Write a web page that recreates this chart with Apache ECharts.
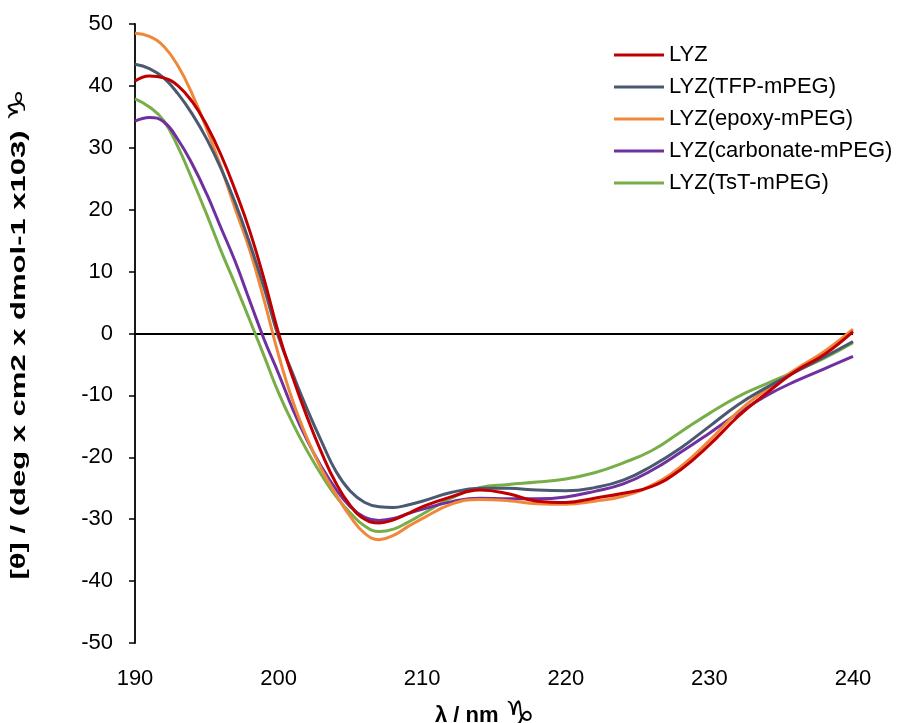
<!DOCTYPE html>
<html>
<head>
<meta charset="utf-8">
<script src="https://cdn.jsdelivr.net/npm/echarts@6/dist/echarts.min.js"></script>
<style>
html,body{margin:0;padding:0;background:#fff;}
#c{width:915px;height:723px;}
</style>
</head>
<body>
<div id="c"></div>
<script>
// Wavelength (nm)
var wavelengths = [190,191,192,193,194,195,196,197,198,199,200,201,202,203,204,205,206,207,208,209,210,
  212,214,216,218,220,222,224,226,228,230,232,234,236,238,240];
var seriesNames = ['LYZ','LYZ(TFP-mPEG)','LYZ(epoxy-mPEG)','LYZ(carbonate-mPEG)','LYZ(TsT-mPEG)'];
var lyz = [40.8,41.6,41.3,40.0,37.4,33.6,28.8,23.0,16.5,8.7,0.0,-7.2,-13.6,-19.3,-24.2,-27.8,-30.0,-30.6,-30.1,-29.1,-28.0,
  -26.4,-25.3,-25.9,-27.1,-27.3,-26.6,-25.8,-24.7,-22.0,-18.0,-13.4,-9.6,-6.1,-3.4,0.3];
var lyzTFP = [43.5,42.8,41.3,38.7,35.4,31.4,26.6,21.0,14.5,7.3,-0.6,-6.6,-12.3,-17.5,-22.3,-25.5,-27.3,-28.0,-28.1,-27.7,-27.1,
  -25.7,-25.0,-25.0,-25.3,-25.4,-24.9,-23.7,-21.4,-18.5,-15.0,-11.5,-8.7,-6.2,-3.8,-1.3];
var lyzEpoxy = [48.5,48.0,46.4,43.2,38.6,33.0,26.8,20.0,13.4,5.3,-3.5,-11.0,-17.0,-22.0,-26.0,-29.6,-32.3,-33.3,-32.6,-31.2,-29.9,
  -27.6,-26.8,-27.0,-27.5,-27.6,-27.1,-26.3,-24.5,-21.5,-17.3,-12.6,-9.0,-5.8,-2.9,0.7];
var lyzCarbonate = [34.3,34.9,34.2,31.3,27.3,22.5,17.0,11.5,5.2,-1.0,-6.5,-12.3,-17.3,-21.6,-25.2,-28.0,-29.7,-30.2,-29.9,-29.1,-28.4,
  -27.2,-26.6,-26.7,-26.7,-26.4,-25.5,-24.3,-22.1,-19.2,-16.1,-12.9,-10.0,-7.7,-5.7,-3.7];
var lyzTsT = [37.9,36.6,34.4,30.1,24.8,19.2,13.3,7.8,2.1,-3.7,-9.6,-14.6,-19.0,-22.9,-26.3,-29.0,-31.1,-32.0,-31.6,-30.5,-29.2,
  -26.6,-24.9,-24.4,-24.0,-23.5,-22.5,-20.9,-18.9,-15.9,-12.9,-10.2,-8.1,-6.1,-4.0,-1.5];
var colors = ['#C00000','#4A5970','#F0883C','#7030A0','#78AE48'];
var xTitle = 'λ / nm ';
var yTitle = '[θ] / (deg x cm2 x dmol-1 x103) ';
var glyph = '♑';

var allValues = [lyz, lyzTFP, lyzEpoxy, lyzCarbonate, lyzTsT];
var FONT = '"Liberation Sans", Arial, "DejaVu Sans", sans-serif';

function pairs(vals){ return wavelengths.map(function(w,i){ return [w, vals[i]]; }); }

var series = seriesNames.map(function(name, k){
  var s = {
    name: name, type: 'line', data: pairs(allValues[k]),
    smooth: 0.45, symbol: 'none',
    lineStyle: {color: colors[k], width: 3},
    itemStyle: {color: colors[k]},
    z: 5 - k
  };
  if (k === 0) {
    s.markLine = {
      silent: true, symbol: 'none', label: {show: false},
      lineStyle: {color: '#000', width: 1.8, type: 'solid'},
      data: [{yAxis: 0}], z: 1
    };
  }
  return s;
});

var chart = echarts.init(document.getElementById('c'), null, {renderer: 'canvas'});
chart.setOption({
  animation: false,
  backgroundColor: '#fff',
  color: colors,
  grid: {left: 135, right: 62, top: 24, bottom: 80, containLabel: false, outerBoundsMode: 'none'},
  legend: {
    orient: 'vertical', left: 614, top: 43, padding: 0,
    itemWidth: 50, itemHeight: 3, itemGap: 8, icon: 'rect',
    textStyle: {fontFamily: FONT, fontSize: 22, color: '#000', lineHeight: 24},
    data: seriesNames
  },
  graphic: [{
    type: 'text', x: 19, y: 334, rotation: Math.PI / 2, scaleX: 1.55, silent: true,
    style: {
      text: '{a|' + yTitle + '}{b|' + glyph + '}',
      align: 'center', verticalAlign: 'middle',
      rich: {
        a: {fontFamily: FONT, fontSize: 20, fontWeight: 'bold', fill: '#000'},
        b: {fontFamily: '"DejaVu Sans", sans-serif', fontSize: 24, fontWeight: 'bold', fill: '#000'}
      }
    }
  }],
  xAxis: {
    type: 'value', min: 190, max: 240, interval: 10,
    name: '{a|' + xTitle + '}{b|' + glyph + '}', nameLocation: 'middle', nameGap: 56,
    nameTextStyle: {
      padding: [0, 18, 0, 0],
      rich: {
        a: {fontFamily: FONT, fontSize: 22, fontWeight: 'bold', color: '#000'},
        b: {fontFamily: '"DejaVu Sans", sans-serif', fontSize: 34, fontWeight: 'bold', color: '#000'}
      }
    },
    axisLine: {show: false, onZero: false},
    axisTick: {show: false},
    splitLine: {show: false},
    axisLabel: {fontFamily: FONT, fontSize: 22, color: '#000', margin: 25}
  },
  yAxis: {
    type: 'value', min: -50, max: 50, interval: 10,
    axisLine: {show: true, lineStyle: {color: '#000', width: 1.8}},
    axisTick: {show: true, length: 6, inside: false, lineStyle: {color: '#000', width: 1.5}},
    splitLine: {show: false},
    axisLabel: {fontFamily: FONT, fontSize: 22, color: '#000', margin: 22}
  },
  series: series
});
</script>
</body>
</html>
